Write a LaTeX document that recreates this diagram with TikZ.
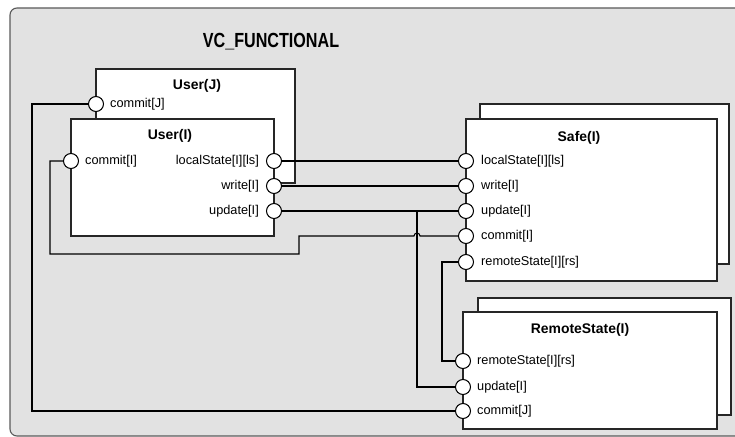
\documentclass[tikz,border=0pt]{standalone}
\usepackage{fontspec}
\setmainfont{Liberation Sans}
\usetikzlibrary{calc}
\definecolor{bg}{HTML}{E2E2E2}
\definecolor{frame}{HTML}{5A5A5A}
\begin{document}
\begin{tikzpicture}[x=1bp,y=-1bp,
  box/.style={draw=black!85,fill=white,line width=1.05bp},
  port/.style={circle,draw=black,fill=white,line width=1.05bp,minimum size=15bp,inner sep=0pt},
  wire/.style={draw=black,line width=1.05bp},
  lbl/.style={font=\fontsize{12.8}{14}\selectfont,inner sep=0pt},
  ttl/.style={font=\bfseries\fontsize{14}{16}\selectfont,inner sep=0pt},
  bigttl/.style={font=\bfseries\fontsize{20.5}{23}\selectfont,inner sep=0pt}]
\useasboundingbox (0,0) rectangle (735,437);
% outer frame
\draw[fill=bg,draw=frame,line width=1.1bp,rounded corners=7bp] (10,8) rectangle (760,436);
\node[bigttl] (title) at (271,42) {\scalebox{0.79}[1]{VC\_FUNCTIONAL}};

% boxes
\draw[box] (96,69) rectangle (295,183);
\draw[box] (71,119) rectangle (274,236);
\draw[box] (480,104) rectangle (729,264);
\draw[box] (466,119) rectangle (717,281);
\draw[box] (478,298) rectangle (731,415);
\draw[box] (463,312) rectangle (717,429);

% titles
\node[ttl] (tuj) at (197,86) {User(J)};
\node[ttl] (tui) at (170,136) {User(I)};
\node[ttl] (tsf) at (579,138) {Safe(I)};
\node[ttl] (trs) at (580,330) {RemoteState(I)};

% ports
\node[port] (uj-cj) at (96,104) {};
\node[port] (ui-ci) at (71,161) {};
\node[port] (ui-ls) at (274,161) {};
\node[port] (ui-wr) at (274,186) {};
\node[port] (ui-up) at (274,211) {};
\node[port] (sf-ls) at (466,161) {};
\node[port] (sf-wr) at (466,186) {};
\node[port] (sf-up) at (466,211) {};
\node[port] (sf-ci) at (466,236) {};
\node[port] (sf-rs) at (466,262) {};
\node[port] (rs-rs) at (463,361) {};
\node[port] (rs-up) at (463,387) {};
\node[port] (rs-cj) at (463,411) {};

% labels
\node[lbl,anchor=west] (l1) at (110,104) {commit[J]};
\node[lbl,anchor=west] (l2) at (85,161) {commit[I]};
\node[lbl,anchor=east] (l3) at (259,161) {localState[I][ls]};
\node[lbl,anchor=east] (l4) at (259,186) {write[I]};
\node[lbl,anchor=east] (l5) at (259,211) {update[I]};
\node[lbl,anchor=west] (l6) at (481,161) {localState[I][ls]};
\node[lbl,anchor=west] (l7) at (481,186) {write[I]};
\node[lbl,anchor=west] (l8) at (481,211) {update[I]};
\node[lbl,anchor=west] (l9) at (481,236) {commit[I]};
\node[lbl,anchor=west] (l10) at (481,262) {remoteState[I][rs]};
\node[lbl,anchor=west] (l11) at (477,361) {remoteState[I][rs]};
\node[lbl,anchor=west] (l12) at (477,387) {update[I]};
\node[lbl,anchor=west] (l13) at (477,411) {commit[J]};

% wires
\coordinate (jn) at (417,211);
\draw[wire] (ui-ls.east) -- (sf-ls.west);
\draw[wire] (ui-wr.east) -- (sf-wr.west);
\draw[wire] (ui-up.east) -- (sf-up.west);
\draw[wire] (jn) |- (rs-up.west);
\draw[wire] (ui-ci.west) -| (50,254) -| (299,236) -- (414,236)
  arc[start angle=180,end angle=360,radius=3] -- (sf-ci.west);
\draw[wire] (sf-rs.west) -| (442,361) -- (rs-rs.west);
\draw[wire] (uj-cj.west) -| (32,411) -- (rs-cj.west);
\end{tikzpicture}
\end{document}
